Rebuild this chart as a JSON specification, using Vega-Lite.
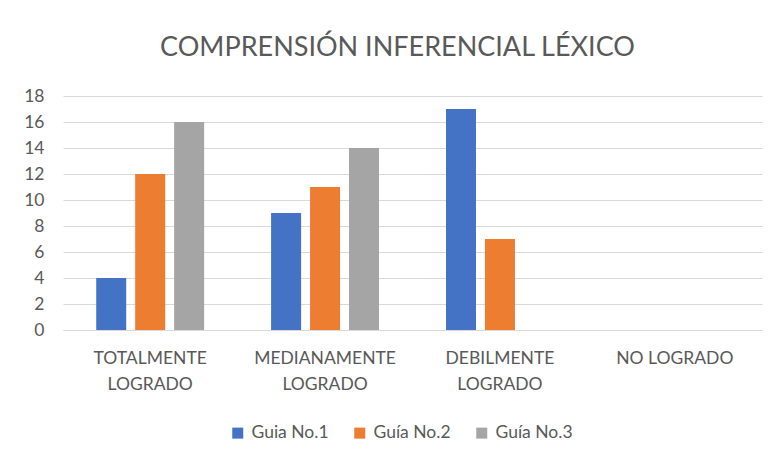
{
  "$schema": "https://vega.github.io/schema/vega-lite/v6.json",
  "autosize": "none",
  "width": 699,
  "height": 234,
  "padding": {"left": 63, "top": 96, "right": 12, "bottom": 129},
  "background": "white",
  "title": {
    "text": "COMPRENSIÓN INFERENCIAL LÉXICO",
    "font": "Lato",
    "fontSize": 27,
    "fontWeight": "normal",
    "color": "#595959",
    "anchor": "middle",
    "dx": -15,
    "offset": 25
  },
  "data": {
    "values": [
      {"categoria": "TOTALMENTE LOGRADO", "guia": "Guia No.1", "valor": 4},
      {"categoria": "TOTALMENTE LOGRADO", "guia": "Guía No.2", "valor": 12},
      {"categoria": "TOTALMENTE LOGRADO", "guia": "Guía No.3", "valor": 16},
      {"categoria": "MEDIANAMENTE LOGRADO", "guia": "Guia No.1", "valor": 9},
      {"categoria": "MEDIANAMENTE LOGRADO", "guia": "Guía No.2", "valor": 11},
      {"categoria": "MEDIANAMENTE LOGRADO", "guia": "Guía No.3", "valor": 14},
      {"categoria": "DEBILMENTE LOGRADO", "guia": "Guia No.1", "valor": 17},
      {"categoria": "DEBILMENTE LOGRADO", "guia": "Guía No.2", "valor": 7},
      {"categoria": "DEBILMENTE LOGRADO", "guia": "Guía No.3", "valor": 0},
      {"categoria": "NO LOGRADO", "guia": "Guia No.1", "valor": 0},
      {"categoria": "NO LOGRADO", "guia": "Guía No.2", "valor": 0},
      {"categoria": "NO LOGRADO", "guia": "Guía No.3", "valor": 0}
    ]
  },
  "mark": {"type": "bar"},
  "encoding": {
    "x": {
      "field": "categoria",
      "type": "nominal",
      "sort": ["TOTALMENTE LOGRADO", "MEDIANAMENTE LOGRADO", "DEBILMENTE LOGRADO", "NO LOGRADO"],
      "scale": {"paddingInner": 0.383, "paddingOuter": 0.19},
      "axis": {
        "title": null,
        "labelAngle": 0,
        "labelExpr": "datum.label == 'NO LOGRADO' ? datum.label : split(datum.label, ' ')",
        "labelFont": "Lato",
        "labelFontSize": 17.5,
        "labelColor": "#595959",
        "labelPadding": 19,
        "labelLineHeight": 26,
        "labelBaseline": "top",
        "ticks": false,
        "domain": true,
        "domainColor": "#d9d9d9",
        "domainWidth": 1
      }
    },
    "xOffset": {
      "field": "guia",
      "type": "nominal",
      "scale": {"paddingInner": 0.23, "paddingOuter": 0}
    },
    "y": {
      "field": "valor",
      "type": "quantitative",
      "scale": {"domain": [0, 18]},
      "axis": {
        "title": null,
        "values": [0, 2, 4, 6, 8, 10, 12, 14, 16, 18],
        "labelFont": "Lato",
        "labelFontSize": 17.5,
        "labelColor": "#595959",
        "labelPadding": 19,
        "ticks": false,
        "domain": false,
        "grid": true,
        "gridColor": "#d9d9d9",
        "gridWidth": 1
      }
    },
    "color": {
      "field": "guia",
      "type": "nominal",
      "scale": {
        "domain": ["Guia No.1", "Guía No.2", "Guía No.3"],
        "range": ["#4472C4", "#ED7D31", "#A5A5A5"]
      },
      "legend": {
        "title": null,
        "orient": "none",
        "legendX": 166,
        "legendY": 328,
        "direction": "horizontal",
        "symbolType": "square",
        "symbolSize": 121,
        "symbolStrokeWidth": 0,
        "labelFont": "Lato",
        "labelFontSize": 17.5,
        "labelColor": "#595959",
        "labelOffset": 5,
        "columnPadding": 22
      }
    }
  },
  "config": {
    "view": {"stroke": null}
  }
}
